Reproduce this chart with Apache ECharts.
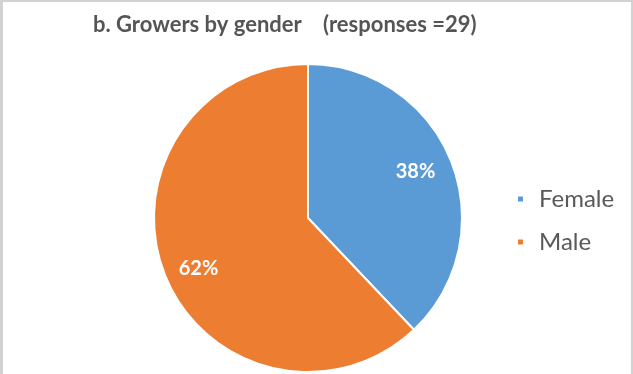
<!DOCTYPE html>
<html>
<head>
<meta charset="utf-8">
<script src="https://cdn.jsdelivr.net/npm/echarts@6/dist/echarts.min.js"></script>
<style>
  html, body { margin: 0; padding: 0; background: #fff; }
  #wrap { position: relative; width: 633px; height: 374px; overflow: hidden; }
  #chart { width: 633px; height: 374px; }
  #frame { position: absolute; left: 0; top: 0; width: 633px; height: 374px; box-sizing: border-box;
           border-top: 2px solid #d2d2d2; border-left: 3px solid #d2d2d2; border-right: 2px solid #d2d2d2;
           pointer-events: none; }
</style>
</head>
<body>
<div id="wrap"><div id="chart"></div><div id="frame"></div></div>
<script>
// Survey responses: growers by gender (29 responses)
const categories = ['Female', 'Male'];
const counts = [11, 18];
const colors = ['#5B9BD5', '#ED7D31'];

const total = counts.reduce((a, b) => a + b, 0);
const pieData = categories.map((name, i) => ({ name, value: counts[i], itemStyle: { color: colors[i] } }));

const center = [308, 218];
const R = 154;

const chart = echarts.init(document.getElementById('chart'), null, { renderer: 'canvas' });
chart.setOption({
  animation: false,
  title: [
    { text: 'b. Growers by gender', left: 88, top: 9,
      textStyle: { fontFamily: 'Lato', fontWeight: 'bold', fontSize: 22, color: '#555555' } },
    { text: '(responses =29)', left: 318, top: 9,
      textStyle: { fontFamily: 'Lato', fontWeight: 'bold', fontSize: 22, color: '#555555' } }
  ],
  legend: {
    data: categories,
    orient: 'vertical',
    left: 511,
    top: 182,
    icon: 'rect',
    itemWidth: 7,
    itemHeight: 7,
    itemGap: 19,
    textStyle: { fontFamily: 'Lato', fontSize: 24, color: '#595959', padding: [0, 0, 0, 10] }
  },
  series: [
    {
      type: 'pie',
      center: center,
      radius: [0, R],
      startAngle: 90,
      clockwise: true,
      silent: true,
      data: pieData,
      itemStyle: { borderColor: '#fff', borderWidth: 2 },
      label: { show: false },
      labelLine: { show: false }
    },
    {
      // transparent ring that carries the percentage labels at ~3/4 radius
      type: 'pie',
      center: center,
      radius: [R * 0.52, R],
      startAngle: 90,
      clockwise: true,
      silent: true,
      data: categories.map((name, i) => ({ name, value: counts[i] })),
      itemStyle: { color: 'rgba(0,0,0,0)' },
      label: {
        show: true,
        position: 'inside',
        formatter: p => Math.round(p.value / total * 100) + '%',
        fontFamily: 'Lato',
        fontWeight: 'bold',
        fontSize: 20,
        color: '#fff'
      },
      labelLayout: p => (p.dataIndex === 1 ? { dx: 2, dy: 6 } : { dx: -4, dy: -2 }),
      labelLine: { show: false }
    }
  ]
});
</script>
</body>
</html>
